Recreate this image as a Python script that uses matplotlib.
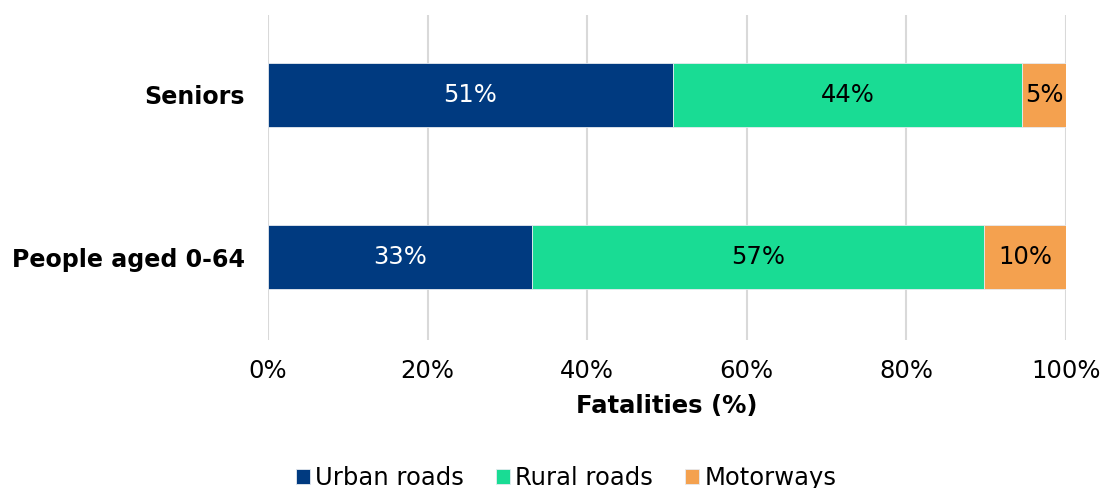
import matplotlib
matplotlib.use("Agg")
import matplotlib.pyplot as plt
import numpy as np

plt.rcParams['font.family'] = ['DejaVu Sans']

categories = ["People aged 0-64", "Seniors"]
series_names = ["Urban roads", "Rural roads", "Motorways"]
urban = [33.1, 50.75]
rural = [56.6, 43.75]
motorways = [10.3, 5.5]
labels_urban = ["33%", "51%"]
labels_rural = ["57%", "44%"]
labels_motor = ["10%", "5%"]
xticks = [0, 20, 40, 60, 80, 100]
xtick_labels = ["0%", "20%", "40%", "60%", "80%", "100%"]

colors = ["#003A80", "#19DC94", "#F4A14F"]
text_colors = ["white", "black", "black"]
FS = 17.5

fig = plt.figure(figsize=(11.03, 4.88), dpi=100)
ax = fig.add_axes([268/1103, 1-340/488, (1066-268)/1103, (340-15)/488])

y = np.arange(len(categories))
left = np.zeros(len(categories))
for vals, labs, name, c, tc in zip([urban, rural, motorways],
                                   [labels_urban, labels_rural, labels_motor],
                                   series_names, colors, text_colors):
    ax.barh(y, vals, left=left, height=0.395, color=c, label=name,
            edgecolor="#E6EAF0", linewidth=0.6, zorder=3)
    for yi, l, v, lab in zip(y, left, vals, labs):
        ax.text(l + v/2, yi, lab, ha="center", va="center", color=tc,
                fontsize=FS, zorder=4)
    left = left + np.array(vals)

ax.set_xlim(0, 100)
ax.set_ylim(-0.51, 1.49)
ax.set_xticks(xticks)
ax.set_xticklabels(xtick_labels, fontsize=FS)
ax.set_yticks(y)
ax.set_yticklabels(categories, fontsize=17.1, fontweight="bold")
ax.tick_params(axis="both", length=0)
ax.tick_params(axis="x", pad=14)
ax.tick_params(axis="y", pad=16.5)
ax.xaxis.grid(True, color="#D9D9D9", linewidth=1.5, zorder=0)
ax.set_axisbelow(True)
for s in ax.spines.values():
    s.set_visible(False)
ax.set_xlabel("Fatalities (%)", fontsize=FS, fontweight="bold", labelpad=7.5)

handles, labs = ax.get_legend_handles_labels()
fig.legend(handles, labs, loc="center", bbox_to_anchor=(566/1103, 1-478/488),
           ncol=3, frameon=False, fontsize=FS, handlelength=0.6, handleheight=0.6,
           handletextpad=0.2, columnspacing=1.3)

fig.savefig("out.png", dpi=100)
